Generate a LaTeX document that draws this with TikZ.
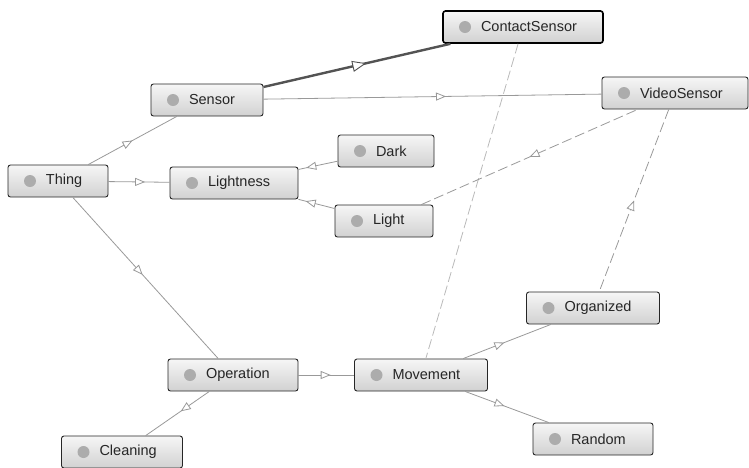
\documentclass[tikz,border=0pt]{standalone}
\usepackage{fontspec}
\setmainfont{Liberation Sans}
\usetikzlibrary{arrows.meta,decorations.markings,shadings}
% class label: fixed-width box, text placed after the icon
\newcommand\cname[2]{\makebox[#1][l]{\hspace*{38pt}#2}}
\begin{document}
\begin{tikzpicture}[x=1pt,y=-1pt,
  cls/.style={draw=gray!30!black, line width=0.9pt, rounded corners=2.5pt,
    top color=gray!7, bottom color=gray!36, minimum height=32pt,
    inner xsep=0pt, inner ysep=0pt, text=black!85,
    font=\fontsize{14.5}{16}\selectfont,
    path picture={\fill[gray!65] ([xshift=22pt]path picture bounding box.west) circle (6pt);}},
  strong/.style={draw=black, line width=1.6pt},
  isa/.style={draw=gray!80, line width=0.8pt, postaction={decorate},
    decoration={markings, mark=at position #1 with
      {\arrow{Triangle[fill=white, length=10pt, width=8pt, line width=0.8pt]}}}},
  isaback/.style={draw=gray!80, line width=0.8pt, postaction={decorate},
    decoration={markings, mark=at position #1 with
      {\arrowreversed{Triangle[fill=white, length=10pt, width=8pt, line width=0.8pt]}}}},
  heavy/.style={draw=gray!65!black, line width=2.4pt, postaction={decorate},
    decoration={markings, mark=at position #1 with
      {\arrow{Triangle[fill=white, length=14pt, width=11pt, line width=0.9pt]}}}},
  prop/.style={draw=gray!55, line width=0.8pt, dash pattern=on 10pt off 4pt},
]
\useasboundingbox (0,0) rectangle (749,467);

% classes
\node[cls, strong] (contact) at (523,27)  {\cname{160pt}{ContactSensor}};
\node[cls]         (sensor)  at (207,100) {\cname{112pt}{Sensor}};
\node[cls]         (video)   at (675,93)  {\cname{146pt}{VideoSensor}};
\node[cls]         (thing)   at (58,181)  {\cname{100pt}{Thing}};
\node[cls]         (light)   at (234,183) {\cname{128pt}{Lightness}};
\node[cls]         (dark)    at (386,151) {\cname{96pt}{Dark}};
\node[cls]         (lit)     at (384,221) {\cname{98pt}{Light}};
\node[cls]         (oper)    at (233,375) {\cname{130pt}{Operation}};
\node[cls]         (move)    at (421,375) {\cname{133pt}{Movement}};
\node[cls]         (org)     at (593,308) {\cname{133pt}{Organized}};
\node[cls]         (rand)    at (593,439) {\cname{120pt}{Random}};
\node[cls]         (clean)   at (122,452) {\cname{121pt}{Cleaning}};

% subclass links
\draw[isa=0.5]  (thing) -- (sensor);
\draw[isa=0.6]  (thing) -- (light);
\draw[isa=0.48] (thing) -- (oper);
\draw[heavy=0.55] (sensor) -- (contact);
\draw[isa=0.54] (sensor) -- (video);
\draw[isaback=0.2] (light) -- (dark);
\draw[isaback=0.2] (light) -- (lit);
\draw[isa=0.58] (oper) -- (move);
\draw[isa=0.45] (oper) -- (clean);
\draw[isa=0.47] (move) -- (org);
\draw[isa=0.47] (move) -- (rand);

% property links
\draw[prop] (contact) -- (move);
\draw[prop, isaback=0.5] (lit) -- (video);
\draw[prop, isaback=0.5] (video) -- (org);
\end{tikzpicture}
\end{document}
